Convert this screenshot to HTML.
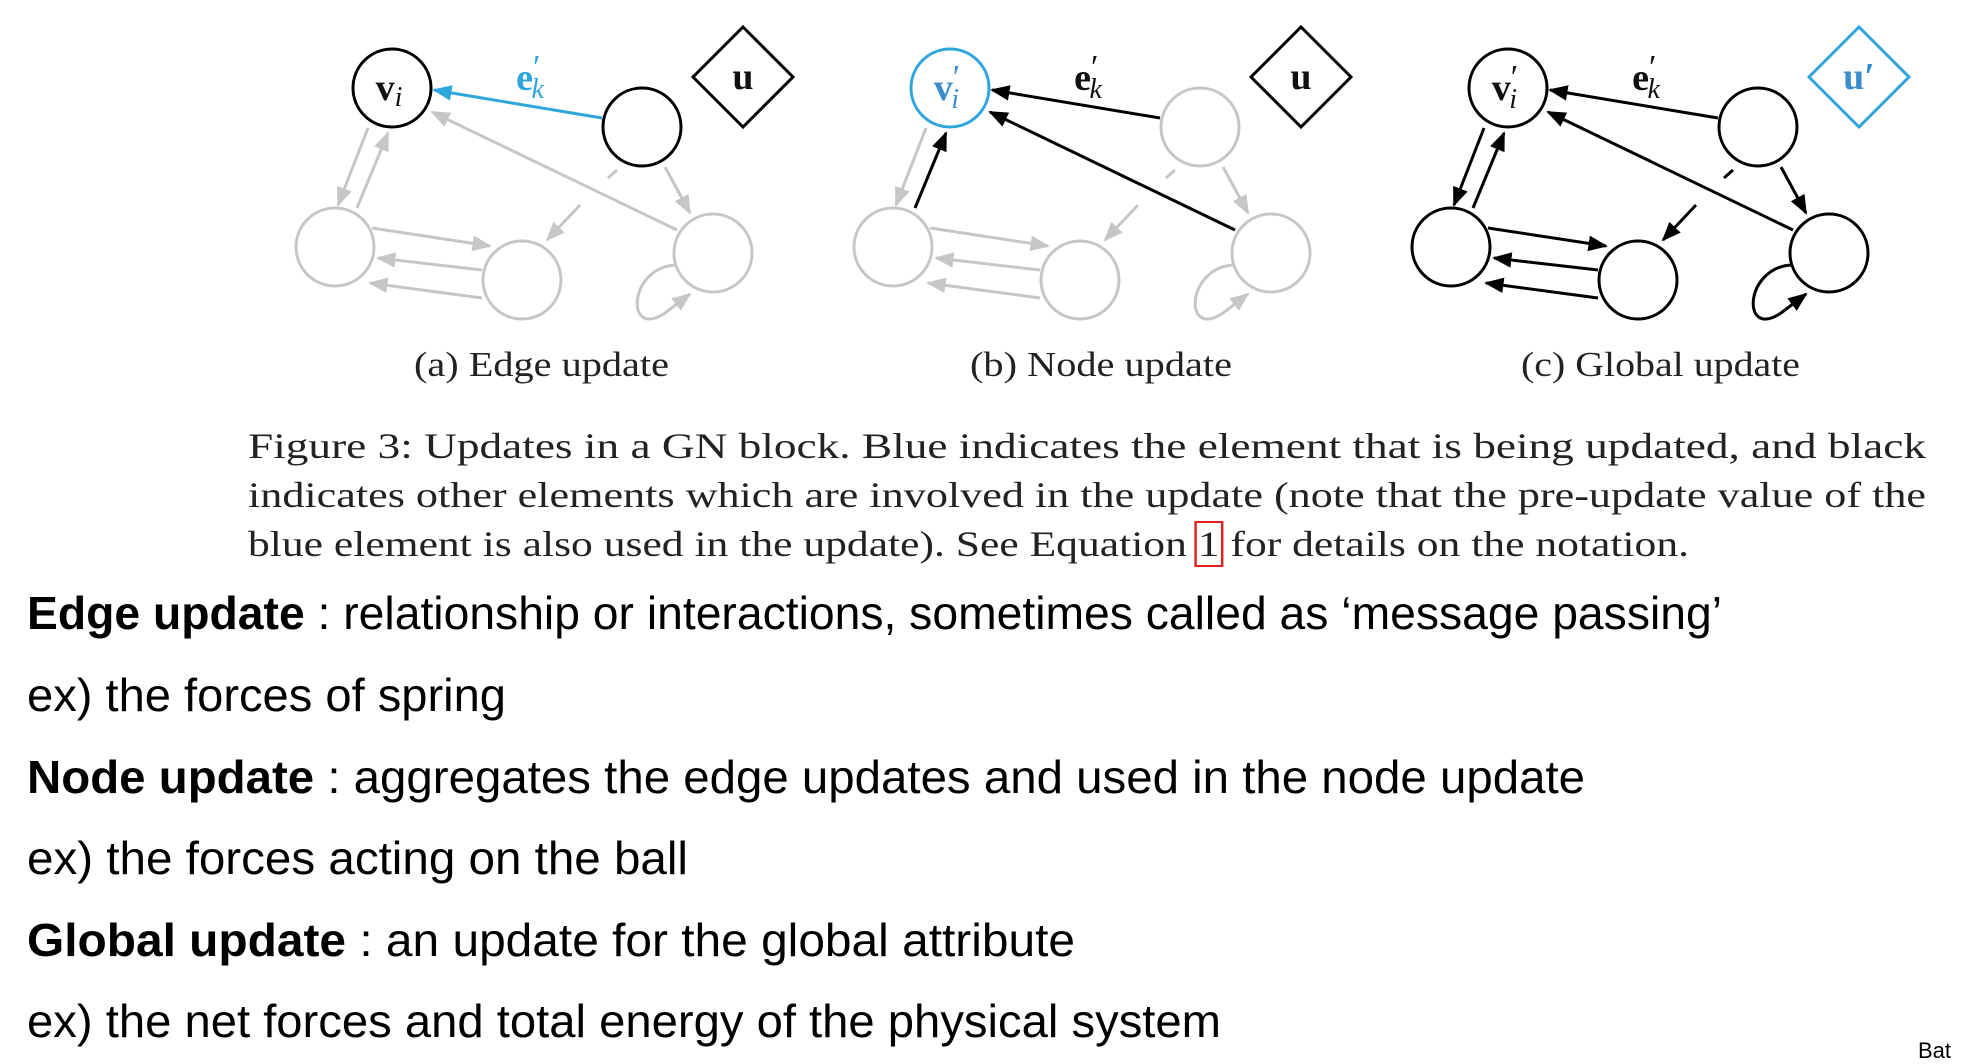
<!DOCTYPE html>
<html><head><meta charset="utf-8">
<style>
html,body{margin:0;padding:0;background:#fff;}
body{width:1962px;height:1060px;position:relative;overflow:hidden;}
.fit{position:absolute;white-space:nowrap;transform-origin:0 50%;line-height:1;}
.cap{font-family:"Liberation Serif",serif;font-size:36px;color:#222;}
.body{font-family:"Liberation Sans","Noto Sans CJK KR",sans-serif;font-size:46px;color:#000;}
.sub{font-family:"Liberation Serif",serif;font-size:35px;color:#222;}
</style></head><body>
<svg id="fig" width="1962" height="420" style="position:absolute;left:0;top:0" xmlns="http://www.w3.org/2000/svg">
<defs>
<marker id="ah-gray" viewBox="0 0 10 10" refX="9" refY="5" markerWidth="6.5" markerHeight="6.5" orient="auto"><path d="M0,1 L10,5 L0,9 z" fill="#c6c6c6"/></marker>
<marker id="ah-black" viewBox="0 0 10 10" refX="9" refY="5" markerWidth="6.5" markerHeight="6.5" orient="auto"><path d="M0,1 L10,5 L0,9 z" fill="#000"/></marker>
<marker id="ah-blue" viewBox="0 0 10 10" refX="9" refY="5" markerWidth="6.5" markerHeight="6.5" orient="auto"><path d="M0,1 L10,5 L0,9 z" fill="#2ea6db"/></marker>
</defs>
</svg>

<div class="fit sub" style="left:414px;top:347px" data-w="255">(a) Edge update</div>
<div class="fit sub" style="left:970px;top:347px" data-w="262">(b) Node update</div>
<div class="fit sub" style="left:1521px;top:347px" data-w="279">(c) Global update</div>

<div class="fit cap" style="left:248px;top:428px" data-w="1678">Figure 3: Updates in a GN block. Blue indicates the element that is being updated, and black</div>
<div class="fit cap" style="left:248px;top:477px" data-w="1678">indicates other elements which are involved in the update (note that the pre-update value of the</div>
<div class="fit cap" style="left:248px;top:526px" data-w="1441">blue element is also used in the update). See Equation <span style="outline:2px solid #e02020;outline-offset:1px">1</span> for details on the notation.</div>

<div class="fit body" style="left:27px;top:590px" data-w="1695"><b>Edge update</b> : relationship or interactions, sometimes called as ‘message passing’</div>
<div class="fit body" style="left:27px;top:672px" data-w="479">ex) the forces of spring</div>
<div class="fit body" style="left:27px;top:754px" data-w="1558"><b>Node update</b> : aggregates the edge updates and used in the node update</div>
<div class="fit body" style="left:27px;top:835px" data-w="661">ex) the forces acting on the ball</div>
<div class="fit body" style="left:27px;top:917px" data-w="1048"><b>Global update</b> : an update for the global attribute</div>
<div class="fit body" style="left:27px;top:998px" data-w="1194">ex) the net forces and total energy of the physical system</div>
<div style="position:absolute;left:1918px;top:1038px;font-family:'Liberation Sans',sans-serif;font-size:22px;color:#000">Bat</div>

<script>
const panelOffsets = [0, 558, 1116];
const nodeNames = ['V','T','BL','BM','BR'];
const nodeX = [392, 642, 335, 522, 713];
const nodeY = [88, 127, 247, 280, 253];
const nodeColors = [['k','k','g','g','g'],['b','g','g','g','g'],['k','k','k','k','k']];
const diamondColors = ['k','k','b'];
const edgeX1 = [602, 677, 368, 357, 372, 482, 482, 665, 617, 580];
const edgeY1 = [118, 230, 128, 208, 228, 270, 298, 167, 170, 205];
const edgeX2 = [434, 432, 338, 388, 490, 378, 370, 690, 608, 547];
const edgeY2 = [90, 112, 205, 133, 246, 258, 283, 213, 178, 240];
const edgeArrow = [1,1,1,1,1,1,1,1,0,1];
const edgeColors = [
  ['b','g','g','g','g','g','g','g','g','g'],
  ['k','k','g','k','g','g','g','g','g','g'],
  ['k','k','k','k','k','k','k','k','k','k']];
const loopColors = ['g','g','k'];
const COL = {k:'#000', g:'#c6c6c6', b:'#2ea6db'};
const MK = {k:'ah-black', g:'ah-gray', b:'ah-blue'};
const svg = document.getElementById('fig');
const NS = 'http://www.w3.org/2000/svg';
function mk(tag, attrs){const e=document.createElementNS(NS,tag);for(const k in attrs)e.setAttribute(k,attrs[k]);svg.appendChild(e);return e;}
panelOffsets.forEach((ox,p)=>{
  for(let i=0;i<edgeX1.length;i++){
    const c=edgeColors[p][i];
    const l=mk('line',{x1:edgeX1[i]+ox,y1:edgeY1[i],x2:edgeX2[i]+ox,y2:edgeY2[i],stroke:COL[c],'stroke-width':3});
    if(edgeArrow[i]) l.setAttribute('marker-end','url(#'+MK[c]+')');
    
    
  }
  const lc=loopColors[p];
  const loop=mk('path',{d:`M${675+ox} 265 C${628+ox} 268 ${625+ox} 340 ${665+ox} 313 L${690+ox} 294`,fill:'none',stroke:COL[lc],'stroke-width':3,'marker-end':'url(#'+MK[lc]+')'});
  
  
  for(let n=0;n<nodeX.length;n++){
    const c=mk('circle',{cx:nodeX[n]+ox,cy:nodeY[n],r:39,fill:'#fff',stroke:COL[nodeColors[p][n]],'stroke-width':3});
    
    
  }
  const dc=diamondColors[p];
  const dx=743+ox, dy=77;
  const d=mk('polygon',{points:`${dx},${dy-50} ${dx+50},${dy} ${dx},${dy+50} ${dx-50},${dy}`,fill:'#fff',stroke:COL[dc],'stroke-width':3});
  
  
  const ut=mk('text',{x:dx,y:dy+12,'text-anchor':'middle','font-family':'Liberation Serif, serif','font-weight':'bold','font-size':38,fill:dc==='b'?'#3a8ccc':'#111'});
  ut.textContent = p===2 ? 'u′' : 'u';
  
  
  const vc=nodeColors[p][0];
  const vt=mk('text',{x:392+ox-3,y:100,'text-anchor':'middle','font-family':'Liberation Serif, serif','font-size':38,fill:vc==='b'?'#3a8ccc':'#111'});
  vt.innerHTML = p===0 ? '<tspan font-weight="bold">v</tspan><tspan font-style="italic" font-size="28" dy="6">i</tspan>' : '<tspan font-weight="bold">v</tspan><tspan font-size="34" dy="-12">′</tspan><tspan font-style="italic" font-size="28" dx="-9" dy="20">i</tspan>';
  
  
  const et=mk('text',{x:530+ox,y:90,'text-anchor':'middle','font-family':'Liberation Serif, serif','font-size':38,fill:p===0?'#2ea6db':'#111'});
  et.innerHTML='<tspan font-weight="bold">e</tspan><tspan font-size="34" dy="-12">′</tspan><tspan font-style="italic" font-size="28" dx="-9" dy="20">k</tspan>';
  
  
});
document.querySelectorAll('.fit').forEach(el=>{
  const w=el.getBoundingClientRect().width; const t=+el.dataset.w;
  if(w>0&&t) el.style.transform='scaleX('+(t/w)+')';
});
</script>
</body></html>
